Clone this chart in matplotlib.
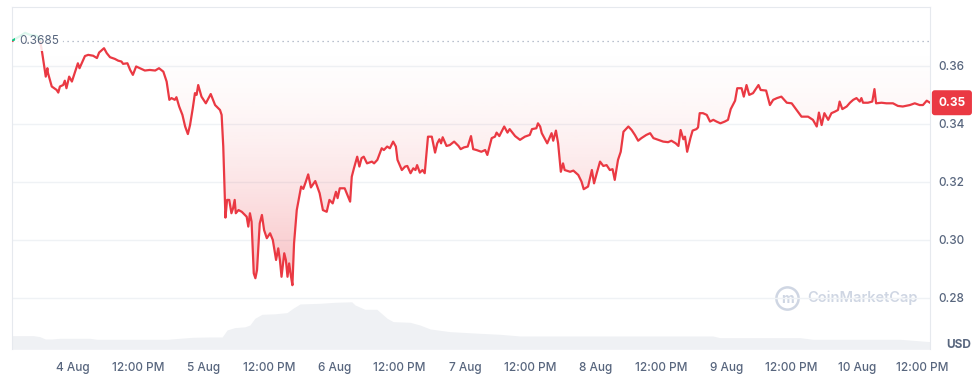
import matplotlib
matplotlib.use("Agg")
import matplotlib.pyplot as plt
import numpy as np
from matplotlib.patches import Rectangle
from matplotlib.path import Path
from matplotlib.transforms import blended_transform_factory
from matplotlib.colors import to_rgb

plt.rcParams['font.family'] = ['Inter', 'DejaVu Sans']

# ---- data (hours relative to 4 Aug 00:00) ----
hours = [
    -11.2, -9.7, -8.8, -7.9, -6.6, -6.1, -5.8, -5.6, -5.0, -4.7,
    -4.6, -3.9, -3.0, -2.7, -2.4, -1.8, -1.5, -1.2, -0.7, -0.2,
    0.4, 0.9, 1.2, 1.6, 2.2, 2.8, 3.7, 4.4, 4.8, 5.7,
    6.2, 6.8, 7.7, 8.3, 8.9, 9.2, 10.0, 10.5, 11.0, 11.6,
    12.3, 13.2, 14.1, 15.1, 15.8, 16.6, 17.2, 17.7, 18.1, 18.7,
    19.0, 19.5, 20.1, 20.6, 21.1, 21.5, 22.0, 22.4, 22.7, 23.0,
    23.6, 24.4, 25.3, 26.1, 27.0, 27.3, 27.6, 28.0, 28.3, 28.7,
    29.1, 29.4, 29.7, 29.9, 30.4, 31.0, 31.6, 31.9, 32.2, 32.5,
    32.8, 33.2, 33.5, 33.8, 34.3, 34.7, 35.1, 35.6, 36.2, 36.7,
    37.3, 37.7, 38.0, 38.3, 38.8, 39.1, 39.4, 39.7, 40.0, 40.3,
    40.6, 41.1, 41.5, 41.9, 42.3, 42.8, 43.2, 43.7, 44.5, 45.3,
    45.9, 46.6, 47.1, 47.7, 48.3, 48.6, 49.0, 49.9, 50.9, 51.2,
    51.6, 52.2, 52.6, 53.0, 53.4, 54.0, 54.9, 55.3, 55.9, 56.7,
    57.1, 57.7, 58.2, 58.8, 59.3, 59.6, 60.4, 61.0, 61.4, 62.0,
    62.5, 62.9, 63.2, 63.7, 64.2, 64.6, 65.2, 65.9, 66.5, 66.9,
    67.3, 67.6, 67.9, 68.6, 69.2, 70.0, 70.8, 71.2, 71.8, 72.5,
    73.1, 73.5, 74.1, 75.0, 75.7, 76.1, 76.9, 77.5, 77.8, 78.3,
    78.7, 79.2, 79.8, 80.2, 81.2, 82.1, 83.0, 83.9, 84.3, 85.1,
    85.4, 85.8, 86.1, 87.1, 87.9, 88.2, 88.7, 89.1, 89.6, 90.0,
    90.3, 91.3, 91.9, 92.8, 93.4, 93.8, 94.6, 95.3, 95.7, 96.2,
    96.8, 97.4, 98.0, 98.6, 99.1, 99.5, 100.1, 100.6, 101.1, 101.4,
    102.0, 102.6, 103.2, 103.8, 104.4, 105.3, 106.0, 106.6, 107.5, 108.4,
    109.3, 109.9, 110.7, 111.2, 111.6, 112.1, 112.4, 112.8, 113.4, 113.8,
    114.5, 114.8, 115.1, 115.7, 116.4, 117.0, 117.6, 118.2, 118.9, 119.7,
    120.3, 120.8, 121.6, 122.0, 122.8, 123.2, 123.7, 124.2, 124.9, 125.9,
    126.3, 127.3, 128.0, 128.6, 129.3, 130.1, 131.1, 132.0, 132.9, 133.8,
    135.0, 135.9, 136.6, 137.0, 137.5, 138.0, 138.7, 139.3, 139.9, 140.5,
    140.8, 141.3, 142.1, 142.7, 143.3, 143.9, 144.5, 144.8, 145.1, 146.0,
    146.8, 147.2, 147.5, 148.5, 149.4, 150.6, 151.5, 152.4, 153.7, 154.6,
    155.5, 156.1, 156.8, 157.4,
]
price = [
    0.3685, 0.3702, 0.3713, 0.3706, 0.3702, 0.3689, 0.3661, 0.3637, 0.3562, 0.3591,
    0.3575, 0.3528, 0.3516, 0.3507, 0.3528, 0.3533, 0.3548, 0.3522, 0.3562, 0.3545,
    0.3579, 0.3608, 0.3591, 0.3608, 0.3633, 0.3637, 0.3634, 0.3626, 0.3645, 0.3660,
    0.3643, 0.3629, 0.3623, 0.3617, 0.3614, 0.3606, 0.3608, 0.3585, 0.3568, 0.3597,
    0.3591, 0.3583, 0.3585, 0.3583, 0.3591, 0.3579, 0.3545, 0.3482, 0.3488, 0.3482,
    0.3491, 0.3459, 0.3430, 0.3390, 0.3364, 0.3395, 0.3453, 0.3505, 0.3499, 0.3533,
    0.3493, 0.3470, 0.3502, 0.3464, 0.3447, 0.3430, 0.3321, 0.3076, 0.3137, 0.3137,
    0.3091, 0.3108, 0.3137, 0.3091, 0.3102, 0.3096, 0.3085, 0.3079, 0.3045, 0.3091,
    0.3062, 0.2884, 0.2867, 0.2895, 0.3056, 0.3085, 0.3033, 0.3005, 0.3022, 0.2999,
    0.2930, 0.2970, 0.2930, 0.2872, 0.2953, 0.2930, 0.2872, 0.2918, 0.2878, 0.2843,
    0.2987, 0.3102, 0.3143, 0.3183, 0.3175, 0.3202, 0.3225, 0.3180, 0.3202, 0.3160,
    0.3102, 0.3096, 0.3137, 0.3125, 0.3165, 0.3143, 0.3177, 0.3177, 0.3131, 0.3217,
    0.3246, 0.3286, 0.3252, 0.3281, 0.3286, 0.3263, 0.3269, 0.3263, 0.3275, 0.3315,
    0.3309, 0.3321, 0.3315, 0.3338, 0.3321, 0.3275, 0.3240, 0.3252, 0.3254, 0.3229,
    0.3246, 0.3240, 0.3257, 0.3231, 0.3240, 0.3229, 0.3355, 0.3355, 0.3300, 0.3332,
    0.3346, 0.3332, 0.3353, 0.3323, 0.3326, 0.3338, 0.3323, 0.3312, 0.3318, 0.3321,
    0.3357, 0.3312, 0.3309, 0.3303, 0.3309, 0.3292, 0.3350, 0.3355, 0.3369, 0.3357,
    0.3372, 0.3390, 0.3369, 0.3381, 0.3357, 0.3344, 0.3355, 0.3361, 0.3381, 0.3384,
    0.3401, 0.3390, 0.3367, 0.3332, 0.3367, 0.3341, 0.3376, 0.3332, 0.3234, 0.3263,
    0.3240, 0.3234, 0.3238, 0.3223, 0.3200, 0.3174, 0.3183, 0.3240, 0.3194, 0.3229,
    0.3269, 0.3254, 0.3257, 0.3240, 0.3243, 0.3206, 0.3275, 0.3303, 0.3372, 0.3378,
    0.3390, 0.3378, 0.3361, 0.3341, 0.3350, 0.3361, 0.3367, 0.3350, 0.3344, 0.3338,
    0.3336, 0.3341, 0.3332, 0.3323, 0.3378, 0.3346, 0.3355, 0.3303, 0.3350, 0.3376,
    0.3381, 0.3387, 0.3436, 0.3436, 0.3430, 0.3407, 0.3413, 0.3407, 0.3401, 0.3407,
    0.3413, 0.3450, 0.3479, 0.3522, 0.3522, 0.3493, 0.3533, 0.3499, 0.3505, 0.3533,
    0.3516, 0.3514, 0.3464, 0.3482, 0.3488, 0.3493, 0.3472, 0.3470, 0.3447, 0.3424,
    0.3424, 0.3413, 0.3390, 0.3438, 0.3395, 0.3436, 0.3413, 0.3436, 0.3441, 0.3447,
    0.3476, 0.3450, 0.3459, 0.3472, 0.3482, 0.3488, 0.3476, 0.3488, 0.3472, 0.3472,
    0.3476, 0.3519, 0.3470, 0.3472, 0.3470, 0.3470, 0.3461, 0.3459, 0.3464, 0.3470,
    0.3464, 0.3464, 0.3479, 0.3472,
]
vol_hours = [-11.2, -9.7, -7.3, -6.1, -5.1, -3.9, -2.4, 0.4, 3.1, 4.4, 8.6, 14.1,
             17.3, 19.6, 22.0, 25.2, 27.4, 28.3, 29.7, 31.6, 32.5, 33.4, 34.7, 37.1,
             39.3, 40.4, 41.7, 45.4, 48.1, 51.2, 51.8, 53.6, 55.8, 57.7, 58.8, 61.9,
             63.7, 65.6, 69.2, 74.7, 78.4, 82.1, 96.8, 117.5, 118.8, 133.5, 135.9,
             151.9, 157.4]
volume = [8.2, 8.2, 8.2, 7.6, 6.2, 6.2, 6.6, 6.6, 6.6, 6.0, 6.0, 6.0,
          6.0, 6.6, 7.2, 7.4, 7.4, 11.6, 13.0, 13.5, 14.6, 18.6, 21.0, 21.3,
          22.0, 24.6, 27.2, 27.6, 28.2, 28.5, 26.6, 24.0, 24.0, 18.6, 16.6, 16.2,
          14.6, 12.2, 10.6, 9.6, 9.0, 8.0, 8.0, 8.0, 7.0, 7.0, 6.0,
          6.0, 4.6]  # million USD
ref_price = 0.3685
last_label = "0.35"
yticks = [0.28, 0.30, 0.32, 0.34, 0.36]
xtick_hours = [0, 12, 24, 36, 48, 60, 72, 84, 96, 108, 120, 132, 144, 156]
xtick_labels = ["4 Aug", "12:00 PM", "5 Aug", "12:00 PM", "6 Aug", "12:00 PM",
                "7 Aug", "12:00 PM", "8 Aug", "12:00 PM", "9 Aug", "12:00 PM",
                "10 Aug", "12:00 PM"]

RED = "#ea3943"
GREEN = "#16c784"
TXT = "#58667e"

h = np.array(hours)
p = np.array(price)
xmin, xmax = -11.2, 157.4
ymin, ymax = 0.2622, 0.3802

fig = plt.figure(figsize=(9.78, 3.75), dpi=100)
fig.patch.set_facecolor("white")
ax = fig.add_axes([0.01227, 0.06853, 0.93865, 0.9128])
axv = ax.twinx()
ax.set_zorder(2)
ax.patch.set_visible(False)
axv.set_zorder(1)

# volume
axv.fill_between(vol_hours, volume, 0, color="#eff1f4", lw=0)
axv.set_ylim(0, 205.4)
axv.set_yticks([])
for s in axv.spines.values():
    s.set_visible(False)

ax.set_xlim(xmin, xmax)
ax.set_ylim(ymin, ymax)

# gradient fill between price and reference
def grad_fill(where, top_val, bot_val, color, a_far, below=True):
    coll = ax.fill_between(h, p, ref_price, where=where, interpolate=True,
                           facecolor="none", edgecolor="none")
    paths = coll.get_paths()
    if not paths:
        return
    cp = Path.make_compound_path(*paths)
    n = 256
    rgb = to_rgb(color)
    arr = np.zeros((n, 1, 4))
    arr[..., 0], arr[..., 1], arr[..., 2] = rgb
    t = np.linspace(0, 1, n)
    if not below:
        t = t[::-1]
    arr[:, 0, 3] = a_far * t ** 1.6
    im = ax.imshow(arr, extent=[xmin, xmax, bot_val, top_val], origin="upper",
                   aspect="auto", zorder=1, interpolation="bilinear")
    im.set_clip_path(cp, ax.transData)

grad_fill(p <= ref_price, ref_price, p.min(), RED, 0.32, below=True)
grad_fill(p >= ref_price, p.max(), ref_price, GREEN, 0.15, below=False)
ax.set_xlim(xmin, xmax)
ax.set_ylim(ymin, ymax)

# price line, red below reference, green above
l1, = ax.plot(h, p, color=RED, lw=1.6, zorder=3, solid_joinstyle="round")
l1.set_clip_path(Rectangle((xmin, ymin), xmax - xmin, ref_price - ymin,
                           transform=ax.transData))
l2, = ax.plot(h, p, color=GREEN, lw=1.6, zorder=3, solid_joinstyle="round")
l2.set_clip_path(Rectangle((xmin, ref_price), xmax - xmin, ymax - ref_price,
                           transform=ax.transData))

# reference dotted line
ax.axhline(ref_price, color="#a3adbf", lw=0.9, ls=(0, (1, 3)), zorder=2)
ax.annotate(f"{ref_price:.4f}", xy=(xmin, ref_price), xytext=(5, 0),
            textcoords="offset points", ha="left", va="center",
            fontsize=8.5, color=TXT, zorder=5,
            bbox=dict(boxstyle="square,pad=0.35", fc="white", ec="none", alpha=0.85))

# grid & axes
ax.set_yticks(yticks)
ax.set_yticklabels([f"{v:.2f}" for v in yticks])
ax.yaxis.tick_right()
ax.grid(axis="y", color="#eff2f5", lw=1.0)
ax.set_axisbelow(True)
ax.tick_params(axis="y", length=0, pad=6, labelsize=8.5, labelcolor=TXT)
ax.set_xticks(xtick_hours)
ax.set_xticklabels(xtick_labels)
ax.tick_params(axis="x", length=0, pad=9, labelsize=8.5, labelcolor=TXT)
for lbl in ax.get_yticklabels() + ax.get_xticklabels():
    lbl.set_fontweight("medium")
ax.spines["bottom"].set_visible(False)
for k in ("left", "top", "right"):
    ax.spines[k].set_color("#e6e9ee")
    ax.spines[k].set_linewidth(0.8)

# last price badge
bt = blended_transform_factory(ax.transAxes, ax.transData)
ax.annotate(last_label, xy=(1, p[-1]), xycoords=bt, xytext=(6, 0),
            textcoords="offset points", ha="left", va="center",
            fontsize=8.5, fontweight="bold", color="white", annotation_clip=False,
            zorder=6,
            bbox=dict(boxstyle="round,pad=0.55,rounding_size=0.25", fc=RED, ec="none"))

# USD label
ax.annotate("USD", xy=(1, 0), xycoords="axes fraction", xytext=(12, 3),
            textcoords="offset points", ha="left", va="center",
            fontsize=8.5, fontweight="bold", color=TXT, annotation_clip=False)

# watermark
wm = "#cfd6e3"
ax.text(0.866, 0.15, "CoinMarketCap", transform=ax.transAxes, ha="left",
        va="center", fontsize=10.5, fontweight="semibold", color=wm, zorder=0)
ax.plot([0.8445], [0.15], marker="o", ms=16, mfc="none", mec=wm, mew=1.8,
        transform=ax.transAxes, zorder=0)
ax.text(0.8445, 0.147, "m", transform=ax.transAxes, ha="center", va="center",
        fontsize=10, fontweight="bold", color=wm, zorder=0)

fig.savefig("out.png", dpi=100, facecolor="white")
